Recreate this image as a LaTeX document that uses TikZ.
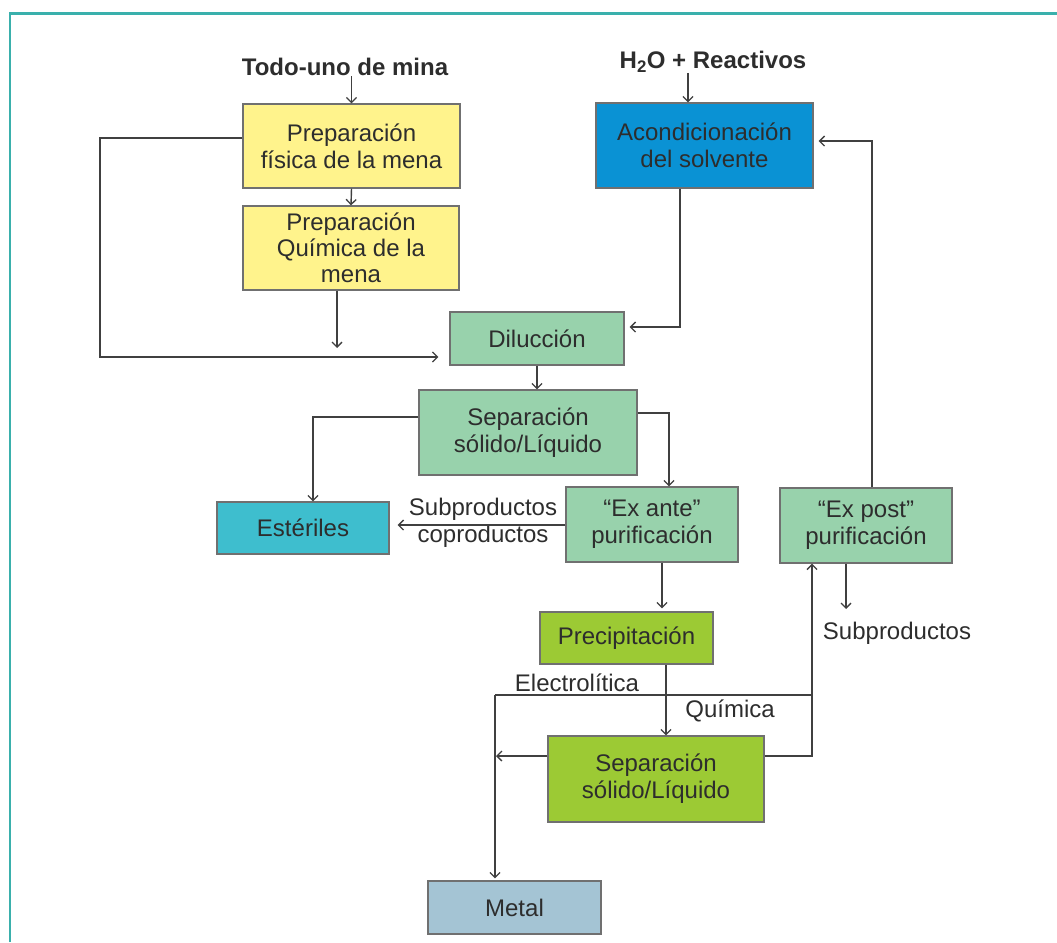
\documentclass[tikz,border=0pt]{standalone}
\usepackage{fontspec}
\setmainfont{Liberation Sans}
\usetikzlibrary{arrows.meta}
\definecolor{frameteal}{RGB}{58,176,172}
\definecolor{boxyellow}{RGB}{255,243,140}
\definecolor{boxblue}{RGB}{10,146,212}
\definecolor{boxgreen}{RGB}{152,210,172}
\definecolor{boxcyan}{RGB}{62,190,206}
\definecolor{boxlime}{RGB}{156,202,52}
\definecolor{boxmetal}{RGB}{164,196,212}
\definecolor{edgegray}{RGB}{112,112,112}
\definecolor{linegray}{RGB}{64,64,64}
\definecolor{txtgray}{RGB}{45,45,45}
\begin{document}
\begin{tikzpicture}[x=1pt,y=-1pt,
  every node/.style={text=txtgray,font=\fontsize{24}{27}\selectfont},
  procbox/.style={draw=edgegray,line width=1.3pt,align=center,inner sep=0pt},
  lbl/.style={align=center,inner sep=0pt},
  toplbl/.style={inner sep=0pt,font=\fontsize{24}{27}\selectfont\bfseries},
  arr/.style={draw=linegray,line width=1.4pt,-{Straight Barb[length=5pt,width=10pt,line width=1.3pt]}},
  ln/.style={draw=linegray,line width=1.4pt}]
\useasboundingbox (0,0) rectangle (1057,942);
% frame
\draw[frameteal,line width=2.2pt] (10,942) -- (10,13.5) -- (1057,13.5);

% top labels
\node[toplbl] (todo) at (345,67) {Todo-uno de mina};
\node[toplbl] (h2o) at (713,62) {H\textsubscript{2}O + Reactivos};

% boxes
\node[procbox,fill=boxyellow,minimum width=217,minimum height=84] (fis) at (351.5,146) {Preparación\\física de la mena};
\node[procbox,fill=boxyellow,minimum width=216,minimum height=84,font=\fontsize{24}{26}\selectfont] (quim) at (351,248) {Preparación\\Química de la\\mena};
\node[procbox,fill=boxblue,minimum width=217,minimum height=85] (acond) at (704.5,145.5) {Acondicionación\\del solvente};
\node[procbox,fill=boxgreen,minimum width=174,minimum height=53] (dil) at (537,338.5) {Dilucción};
\node[procbox,fill=boxgreen,minimum width=218,minimum height=85] (sepa) at (528,432.5) {Separación\\sólido/Líquido};
\node[procbox,fill=boxcyan,minimum width=172,minimum height=52] (est) at (303,528) {Estériles};
\node[procbox,fill=boxgreen,minimum width=172,minimum height=75] (exante) at (652,524.5) {“Ex ante”\\purificación};
\node[procbox,fill=boxgreen,minimum width=172,minimum height=75] (expost) at (866,525.5) {“Ex post”\\purificación};
\node[procbox,fill=boxlime,minimum width=173,minimum height=52] (prec) at (626.5,638) {Precipitación};
\node[procbox,fill=boxlime,minimum width=216,minimum height=86] (sepb) at (656,779) {Separación\\sólido/Líquido};
\node[procbox,fill=boxmetal,minimum width=173,minimum height=53] (metal) at (514.5,907.5) {Metal};

% free labels
\node[lbl] (subco) at (483,523) {Subproductos\\coproductos};
\node[lbl] (elec) at (577,683) {Electrolítica};
\node[lbl] (quimica) at (730,711) {Química};
\node[lbl] (subp) at (897,633) {Subproductos};

% connectors
\draw[arr] (todo.south -| fis.north) -- (fis.north);
\draw[arr] (h2o.south -| 688,0) -- (acond.north -| 688,0);
\draw[arr] (fis.south) -- (quim.north);
\draw[arr] (quim.south -| 337,0) -- (337,348);
\draw[arr,shorten >=11pt] (fis.west |- 0,138) -- (100,138) -- (100,357) -- (dil.west |- 0,357);
\draw[arr,shorten >=5pt] (acond.south -| 680,0) -- (680,327) -- (dil.east |- 0,327);
\draw[arr] (dil.south) -- (dil.south |- sepa.north);
\draw[arr] (sepa.west |- 0,417) -| ([xshift=10pt]est.north);
\draw[arr] (sepa.east |- 0,413) -| ([xshift=17pt]exante.north);
\draw[arr,shorten >=8pt] (exante.west |- 0,525) -- (est.east |- 0,525);
\draw[arr,shorten >=3pt] (exante.south -| 662,0) -- (prec.north -| 662,0);
\draw[arr] (prec.south -| 666,0) -- (sepb.north -| 666,0);
\draw[arr] (sepb.east |- 0,756) -- (812,756) -- (expost.south -| 812,0);
\draw[ln] (812,695) -- (495,695);
\draw[arr,shorten >=2pt] (495,695) -- (metal.north -| 495,0);
\draw[arr] (sepb.west |- 0,756) -- (496,756);
\draw[arr] (expost.south -| 846,0) -- (846,609);
\draw[arr,shorten >=5pt] (expost.north -| 872,0) -- (872,141) -- (acond.east |- 0,141);
\end{tikzpicture}
\end{document}
